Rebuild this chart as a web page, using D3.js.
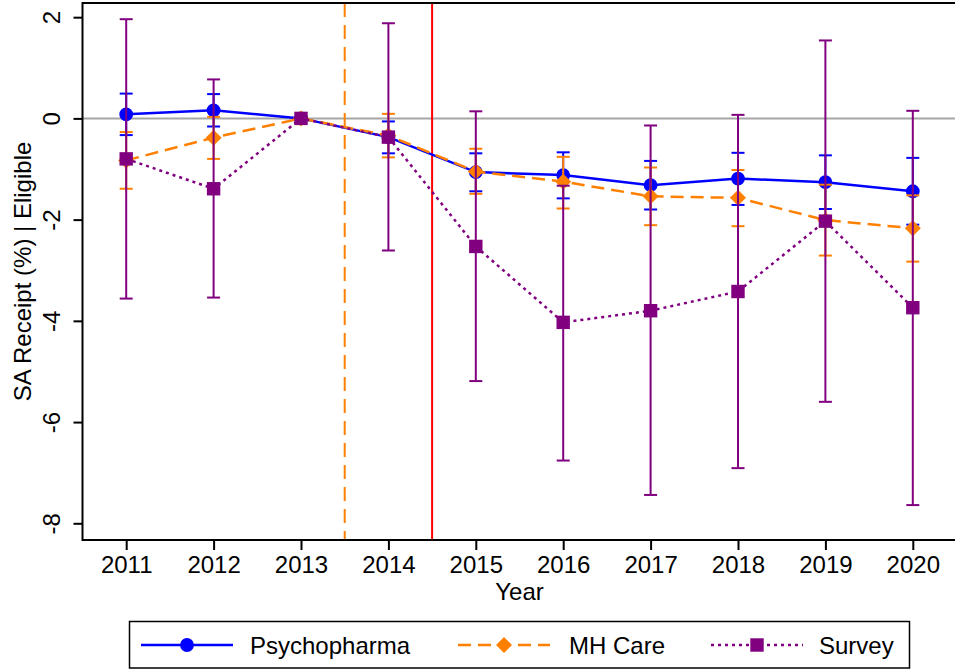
<!DOCTYPE html>
<html>
<head>
<meta charset="utf-8">
<script src="https://cdn.jsdelivr.net/npm/d3@7"></script>
<style>
  body { margin: 0; background: #fff; }
  svg { display: block; font-family: 'Liberation Sans', Arial, sans-serif; }
</style>
</head>
<body>
<script>
const overallWidth = 955
const overallHeight = 670
const plot = { left: 82.5, top: 3, right: 956.5, bottom: 540 }

// values
const years = [2011, 2012, 2013, 2014, 2015, 2016, 2017, 2018, 2019, 2020]
const psychopharma = [0.08, 0.16, 0, -0.37, -1.06, -1.12, -1.32, -1.19, -1.26, -1.44]
const psychopharmaLo = [-0.33, -0.16, 0, -0.69, -1.44, -1.58, -1.80, -1.71, -1.79, -2.10]
const psychopharmaHi = [0.49, 0.48, 0, -0.06, -0.69, -0.67, -0.84, -0.68, -0.73, -0.78]
const mhCare = [-0.83, -0.38, 0, -0.34, -1.05, -1.25, -1.54, -1.57, -2.01, -2.17]
const mhCareLo = [-1.39, -0.80, 0, -0.77, -1.49, -1.78, -2.11, -2.13, -2.71, -2.83]
const mhCareHi = [-0.27, 0.03, 0, 0.09, -0.60, -0.76, -0.97, -1.02, -1.31, -1.52]
const survey = [-0.80, -1.39, 0, -0.37, -2.53, -4.03, -3.80, -3.42, -2.03, -3.74]
const surveyLo = [-3.56, -3.54, 0, -2.61, -5.19, -6.76, -7.44, -6.91, -5.60, -7.64]
const surveyHi = [1.96, 0.77, 0, 1.88, 0.14, -1.33, -0.14, 0.07, 1.54, 0.15]
const yTicks = [-8, -6, -4, -2, 0, 2]
const refLines = [2013.5, 2014.5]
const names = ['Psychopharma', 'MH Care', 'Survey']

const series = [
  { name: names[0], est: psychopharma, lo: psychopharmaLo, hi: psychopharmaHi, color: '#0000ff', dash: null, symbol: d3.symbolCircle, size: 150, rot: 0 },
  { name: names[1], est: mhCare, lo: mhCareLo, hi: mhCareHi, color: '#ff8000', dash: '13,7', symbol: d3.symbolSquare, size: 128, rot: 45 },
  { name: names[2], est: survey, lo: surveyLo, hi: surveyHi, color: '#800080', dash: '3,4', symbol: d3.symbolSquare, size: 180, rot: 0 }
]

const x = d3.scaleLinear().domain([2010.5, 2020.5]).range([plot.left, plot.right])
const y = d3.scaleLinear().domain([-8.33, 2.28]).range([plot.bottom, plot.top])

const svg = d3.select('body').append('svg')
  .attr('width', overallWidth)
  .attr('height', overallHeight)

// zero line
svg.append('line')
  .attr('x1', plot.left).attr('x2', plot.right)
  .attr('y1', y(0)).attr('y2', y(0))
  .style('stroke', '#a6a6a6')
  .style('stroke-width', 2)

// reference lines
svg.append('g').attr('class', 'reflines')
  .selectAll('line')
  .data(refLines).enter()
  .append('line')
  .attr('x1', d => x(d)).attr('x2', d => x(d))
  .attr('y1', plot.top).attr('y2', plot.bottom)
  .style('stroke', (d, i) => ['#ff8000', '#ff0000'][i])
  .style('stroke-width', 2)
  .style('stroke-dasharray', (d, i) => ['14,8', null][i])

const line = d3.line()
  .x(d => x(d.year))
  .y(d => y(d.est))

series.forEach(s => {
  const rows = years.map((yr, i) => ({ year: yr, est: s.est[i], lo: s.lo[i], hi: s.hi[i] }))
  const g = svg.append('g').attr('class', 'series')

  g.append('path')
    .attr('d', line(rows))
    .style('fill', 'none')
    .style('stroke', s.color)
    .style('stroke-width', 2.5)
    .style('stroke-dasharray', s.dash)

  g.selectAll('markers')
    .data(rows).enter()
    .append('path')
    .attr('d', d3.symbol(s.symbol, s.size))
    .attr('transform', d => `translate(${x(d.year)},${y(d.est)}) rotate(${s.rot})`)
    .style('fill', s.color)

  const caps = g.selectAll('caps')
    .data(rows).enter()
    .append('g')
    .style('stroke', s.color)
    .style('stroke-width', 2)
  caps.append('line')
    .attr('x1', d => x(d.year)).attr('x2', d => x(d.year))
    .attr('y1', d => y(d.lo)).attr('y2', d => y(d.hi))
  caps.append('line')
    .attr('x1', d => x(d.year) - 6.5).attr('x2', d => x(d.year) + 6.5)
    .attr('y1', d => y(d.lo)).attr('y2', d => y(d.lo))
  caps.append('line')
    .attr('x1', d => x(d.year) - 6.5).attr('x2', d => x(d.year) + 6.5)
    .attr('y1', d => y(d.hi)).attr('y2', d => y(d.hi))
})

// frame
svg.append('rect')
  .attr('x', plot.left).attr('y', plot.top)
  .attr('width', plot.right - plot.left)
  .attr('height', plot.bottom - plot.top)
  .style('fill', 'none')
  .style('stroke', '#000')
  .style('stroke-width', 2)

svg.append('g').attr('class', 'x axis')
  .attr('transform', `translate(0,${plot.bottom})`)
  .call(d3.axisBottom(x).tickValues(years).tickFormat(d => String(d)).tickSize(10).tickPadding(6))
  .call(g => g.select('.domain').remove())
  .call(g => g.selectAll('.tick line').style('stroke-width', 2))
  .selectAll('text')
  .style('font-size', '24px')
  .attr('fill', '#000')
  .style('font-family', "'Liberation Sans', Arial, sans-serif")

svg.append('g').attr('class', 'y axis')
  .attr('transform', `translate(${plot.left},0)`)
  .call(d3.axisLeft(y).tickValues(yTicks).tickFormat(d => String(d)).tickSize(9))
  .call(g => g.select('.domain').remove())
  .call(g => g.selectAll('.tick line').style('stroke-width', 2))
  .selectAll('text')
  .attr('x', null)
  .attr('dy', null)
  .attr('text-anchor', 'middle')
  .attr('transform', 'translate(-22.5,0) rotate(-90)')
  .attr('fill', '#000')
  .style('font-size', '24px')
  .style('font-family', "'Liberation Sans', Arial, sans-serif")

svg.append('text')
  .text('Year')
  .attr('x', (plot.left + plot.right) / 2)
  .attr('y', 600)
  .style('text-anchor', 'middle')
  .style('font-size', '24px')

svg.append('text')
  .text('SA Receipt (%) | Eligible')
  .attr('transform', `translate(31,${(plot.top + plot.bottom) / 2}) rotate(-90)`)
  .style('text-anchor', 'middle')
  .style('font-size', '24px')

// legend
const legend = svg.append('g').attr('class', 'legend')
legend.append('rect')
  .attr('x', 129.5).attr('y', 621.5)
  .attr('width', 780).attr('height', 46.5)
  .style('fill', '#fff')
  .style('stroke', '#000')
  .style('stroke-width', 1.5)

const keyX = [141, 458, 711]
const textX = [250, 569, 819]
series.forEach((s, i) => {
  legend.append('line')
    .attr('x1', keyX[i]).attr('x2', keyX[i] + 92)
    .attr('y1', 645).attr('y2', 645)
    .style('stroke', s.color)
    .style('stroke-width', 2.5)
    .style('stroke-dasharray', s.dash)
  legend.append('path')
    .attr('d', d3.symbol(s.symbol, s.size))
    .attr('transform', `translate(${keyX[i] + 46},645) rotate(${s.rot})`)
    .style('fill', s.color)
  legend.append('text')
    .text(s.name)
    .attr('x', textX[i])
    .attr('y', 653.5)
    .style('font-size', '24px')
})
</script>
</body>
</html>
